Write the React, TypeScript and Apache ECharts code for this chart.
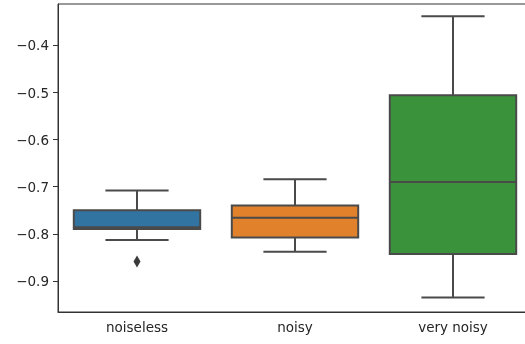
import React, { useEffect, useRef } from "react";
import * as echarts from "echarts";

const categories = ["noiseless", "noisy", "very noisy"];
const lowerWhisker = [-0.813, -0.838, -0.935];
const q1 = [-0.79, -0.808, -0.843];
const median = [-0.786, -0.766, -0.69];
const q3 = [-0.75, -0.74, -0.506];
const upperWhisker = [-0.708, -0.684, -0.338];
const outliers = [[0, -0.859]];
const yTicks = [-0.9, -0.8, -0.7, -0.6, -0.5, -0.4];
const boxColors = ["#3274A1", "#E1812C", "#3A923A"];
const lineColor = "#4a4a4a";

export default function App() {
  const ref = useRef<HTMLDivElement>(null);
  useEffect(() => {
    if (!ref.current) return;
    const chart = echarts.init(ref.current, null, { renderer: "svg" });
    const boxData = categories.map((_, i) => [
      i,
      lowerWhisker[i],
      q1[i],
      median[i],
      q3[i],
      upperWhisker[i],
    ]);
    const fmt = (v: number) => (v < 0 ? "\u2212" : "") + Math.abs(v).toFixed(1);
    chart.setOption({
      animation: false,
      grid: {
        left: 58,
        right: 8,
        top: 4,
        bottom: 32,
        show: true,
        borderColor: "#333",
        borderWidth: 1,
      },
      xAxis: {
        type: "category",
        data: categories,
        boundaryGap: true,
        axisLine: { lineStyle: { color: "#333", width: 1 } },
        axisTick: { alignWithLabel: true, length: 5, lineStyle: { color: "#333" } },
        axisLabel: {
          fontFamily: "DejaVu Sans",
          fontSize: 13.5,
          color: "#262626",
          margin: 8,
        },
        splitLine: { show: false },
      },
      yAxis: {
        type: "value",
        min: -0.966,
        max: -0.312,
        axisLine: { show: true, lineStyle: { color: "#333", width: 1 } },
        axisTick: {
          show: true,
          length: 5,
          customValues: yTicks,
          lineStyle: { color: "#333" },
        },
        axisLabel: {
          customValues: yTicks,
          formatter: fmt,
          fontFamily: "DejaVu Sans",
          fontSize: 13.5,
          color: "#262626",
          margin: 9,
        },
        splitLine: { show: false },
      },
      series: [
        {
          type: "custom",
          data: boxData,
          encode: { x: 0, y: [1, 2, 3, 4, 5] },
          renderItem: (params: any, api: any) => {
            const x = api.value(0);
            const idx = params.dataIndex;
            const band = api.size([1, 0])[0];
            const half = band * 0.4;
            const capHalf = band * 0.2;
            const pLow = api.coord([x, api.value(1)]);
            const pQ1 = api.coord([x, api.value(2)]);
            const pMed = api.coord([x, api.value(3)]);
            const pQ3 = api.coord([x, api.value(4)]);
            const pHigh = api.coord([x, api.value(5)]);
            const cx = pMed[0];
            const ls = { stroke: lineColor, lineWidth: 2 };
            return {
              type: "group",
              children: [
                {
                  type: "line",
                  shape: { x1: cx, y1: pHigh[1], x2: cx, y2: pQ3[1] },
                  style: ls,
                },
                {
                  type: "line",
                  shape: { x1: cx, y1: pQ1[1], x2: cx, y2: pLow[1] },
                  style: ls,
                },
                {
                  type: "line",
                  shape: { x1: cx - capHalf, y1: pHigh[1], x2: cx + capHalf, y2: pHigh[1] },
                  style: ls,
                },
                {
                  type: "line",
                  shape: { x1: cx - capHalf, y1: pLow[1], x2: cx + capHalf, y2: pLow[1] },
                  style: ls,
                },
                {
                  type: "rect",
                  shape: { x: cx - half, y: pQ3[1], width: half * 2, height: pQ1[1] - pQ3[1] },
                  style: { fill: boxColors[idx], stroke: lineColor, lineWidth: 2 },
                },
                {
                  type: "line",
                  shape: { x1: cx - half, y1: pMed[1], x2: cx + half, y2: pMed[1] },
                  style: ls,
                },
              ],
            };
          },
        },
        {
          type: "scatter",
          data: outliers,
          symbol: "diamond",
          symbolSize: [7, 12],
          itemStyle: { color: "#3a3a3a", opacity: 1 },
        },
      ],
    });
    return () => chart.dispose();
  }, []);
  return (
    <div
      ref={ref}
      style={{ position: "fixed", left: 0, top: 0, width: 540, height: 344 }}
    />
  );
}
